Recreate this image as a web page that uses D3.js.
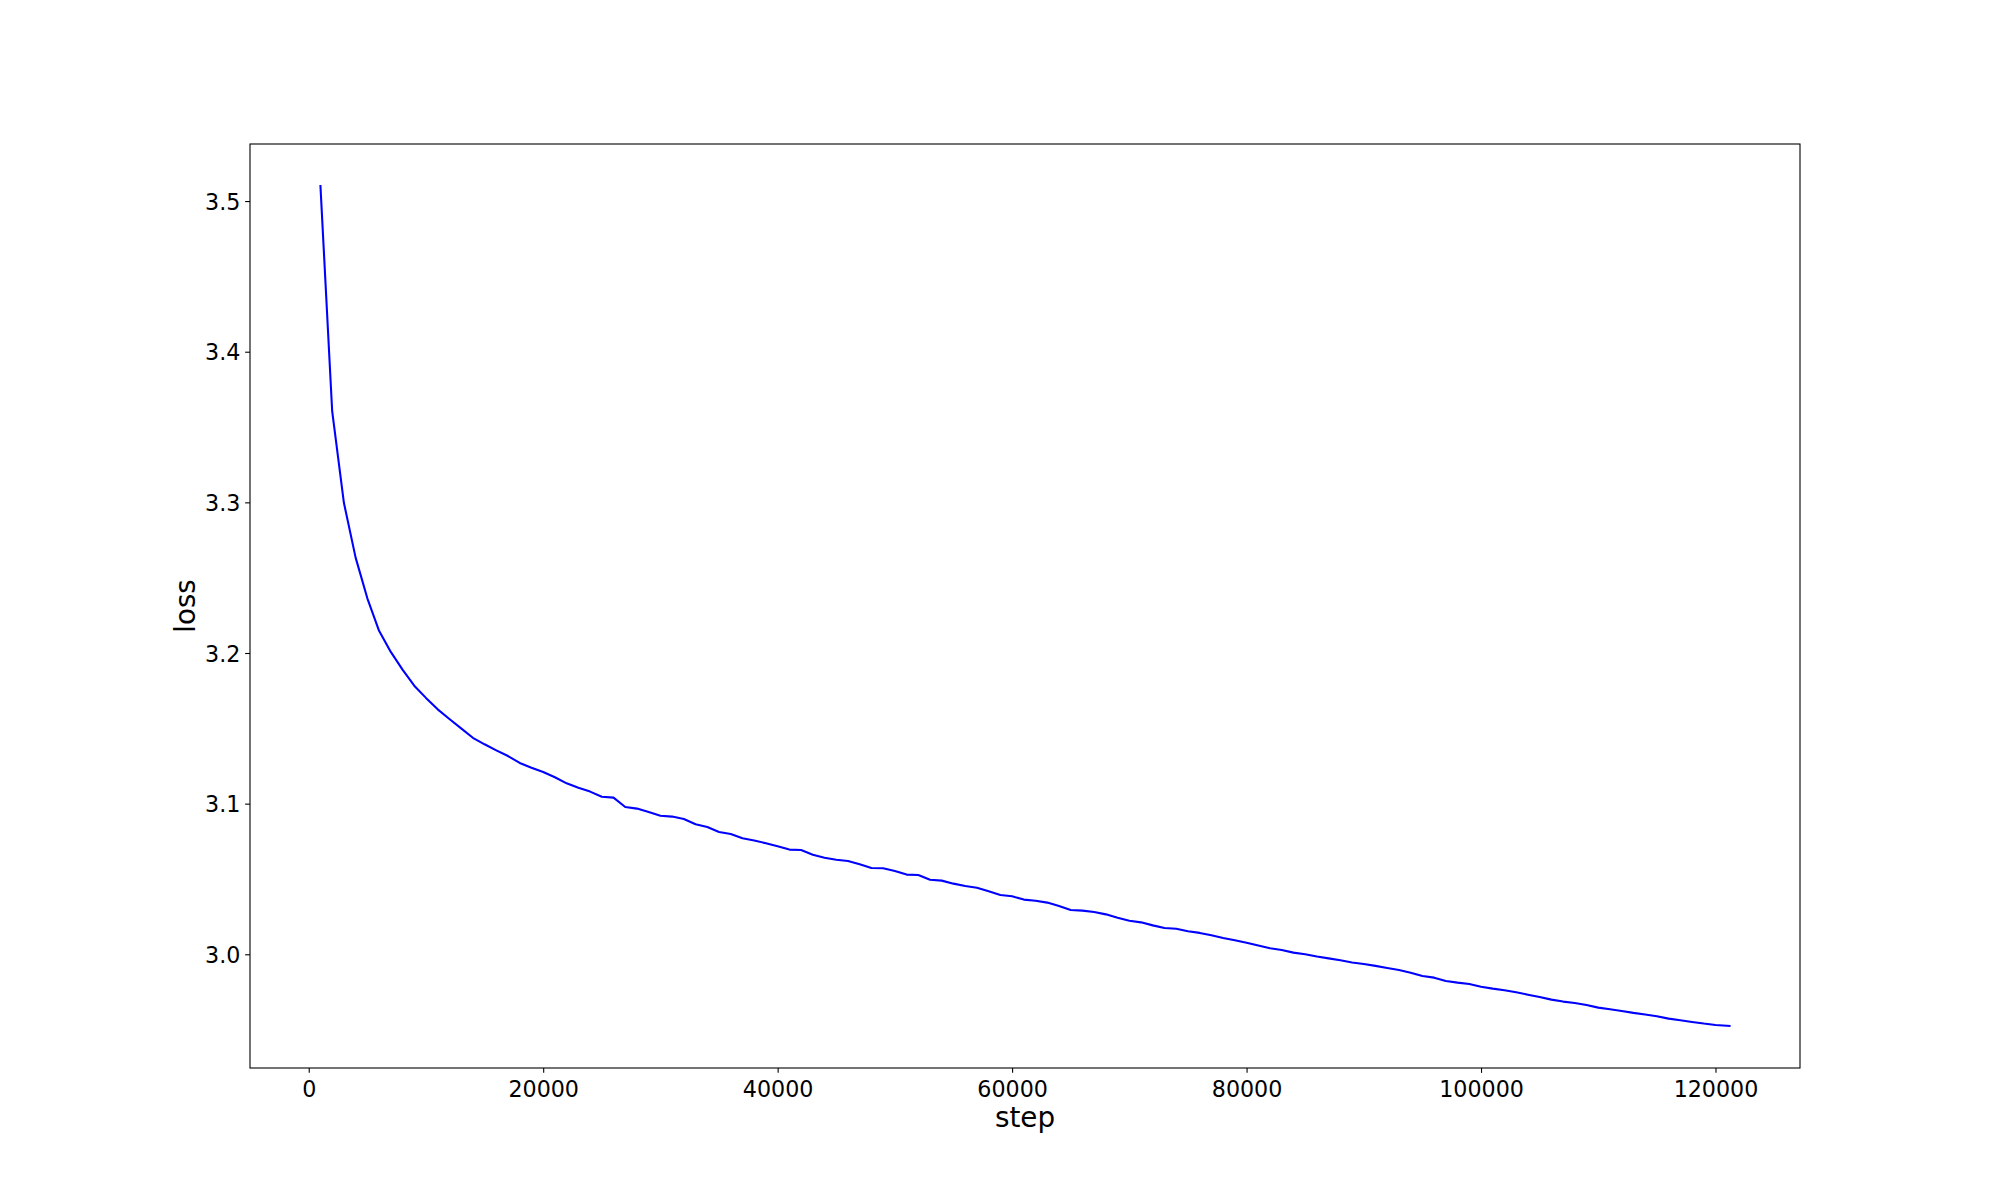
<!DOCTYPE html>
<html>
<head>
<meta charset="utf-8">
<script src="https://cdn.jsdelivr.net/npm/d3@7"></script>
<style>
  body { margin: 0; background: #fff; }
  svg { display: block; }
</style>
</head>
<body>
<script>
// training steps (x)
const steps = [
  1000, 2000, 3000, 4000, 5000, 6000, 7000, 8000, 9000, 10000,
  11000, 12000, 13000, 14000, 15000, 16000, 17000, 18000, 19000, 20000,
  21000, 22000, 23000, 24000, 25000, 26000, 27000, 28000, 29000, 30000,
  31000, 32000, 33000, 34000, 35000, 36000, 37000, 38000, 39000, 40000,
  41000, 42000, 43000, 44000, 45000, 46000, 47000, 48000, 49000, 50000,
  51000, 52000, 53000, 54000, 55000, 56000, 57000, 58000, 59000, 60000,
  61000, 62000, 63000, 64000, 65000, 66000, 67000, 68000, 69000, 70000,
  71000, 72000, 73000, 74000, 75000, 76000, 77000, 78000, 79000, 80000,
  81000, 82000, 83000, 84000, 85000, 86000, 87000, 88000, 89000, 90000,
  91000, 92000, 93000, 94000, 95000, 96000, 97000, 98000, 99000, 100000,
  101000, 102000, 103000, 104000, 105000, 106000, 107000, 108000, 109000, 110000,
  111000, 112000, 113000, 114000, 115000, 116000, 117000, 118000, 119000, 120000,
  121200
];

// loss values (y)
const loss = [
  3.510, 3.3605, 3.2997, 3.2633, 3.2363, 3.2147, 3.2007, 3.1890, 3.1783, 3.1702,
  3.1626, 3.1562, 3.1500, 3.1437, 3.1394, 3.1354, 3.1316, 3.1270, 3.1238, 3.1210,
  3.1175, 3.1135, 3.1105, 3.1080, 3.1046, 3.1040, 3.0978, 3.0967, 3.0944, 3.0920,
  3.0914, 3.0898, 3.0863, 3.0845, 3.0812, 3.0798, 3.0770, 3.0756, 3.0737, 3.0717,
  3.0695, 3.0692, 3.0661, 3.0641, 3.0628, 3.0619, 3.0597, 3.0573, 3.0571, 3.0553,
  3.0529, 3.0526, 3.0495, 3.0489, 3.0469, 3.0453, 3.0442, 3.0418, 3.0394, 3.0385,
  3.0363, 3.0356, 3.0343, 3.0321, 3.0294, 3.0290, 3.0281, 3.0265, 3.0243, 3.0223,
  3.0212, 3.0192, 3.0175, 3.0170, 3.0153, 3.0142, 3.0126, 3.0108, 3.0093, 3.0077,
  3.0058, 3.0040, 3.0029, 3.0011, 3.0000, 2.9985, 2.9973, 2.9960, 2.9945, 2.9936,
  2.9923, 2.9909, 2.9896, 2.9878, 2.9856, 2.9845, 2.9823, 2.9812, 2.9803, 2.9785,
  2.9772, 2.9761, 2.9748, 2.9732, 2.9717, 2.9699, 2.9686, 2.9677, 2.9664, 2.9646,
  2.9635, 2.9624, 2.9611, 2.9600, 2.9589, 2.9573, 2.9562, 2.9551, 2.9540, 2.9531,
  2.9524
];

const xTicks = [0, 20000, 40000, 60000, 80000, 100000, 120000];
const yTicks = [3.0, 3.1, 3.2, 3.3, 3.4, 3.5];

const width = 2000;
const height = 1200;
const margin = { top: 144, right: 200, bottom: 132, left: 250 };
const font = 'DejaVu Sans';
const tickFont = 22.2;
const labelFont = 27.8;
const tickLen = 4.86;

const data = steps.map((s, i) => ({ step: s, value: loss[i] }));

// pad the data extent by 5% each side, like matplotlib autoscale
function padded (ext) {
  const d = (ext[1] - ext[0]) * 0.05;
  return [ext[0] - d, ext[1] + d];
}

const x = d3.scaleLinear()
  .domain(padded(d3.extent(steps)))
  .range([margin.left, width - margin.right]);
const y = d3.scaleLinear()
  .domain(padded(d3.extent(loss)))
  .range([height - margin.bottom, margin.top]);

const svg = d3.select('body')
  .append('svg')
  .attr('width', width)
  .attr('height', height);

svg.append('rect')
  .attr('width', width)
  .attr('height', height)
  .attr('fill', '#fff');

const line = d3.line()
  .x(d => x(d.step))
  .y(d => y(d.value));

svg.append('path')
  .datum(data)
  .attr('d', line)
  .attr('fill', 'none')
  .attr('stroke', '#0000ff')
  .attr('stroke-width', 2.08)
  .attr('stroke-linejoin', 'round')
  .attr('stroke-linecap', 'square');

const xAxis = svg.append('g')
  .attr('transform', `translate(0,${height - margin.bottom})`)
  .call(d3.axisBottom(x).tickValues(xTicks).tickFormat(d3.format('d')).tickSize(tickLen));

const yAxis = svg.append('g')
  .attr('transform', `translate(${margin.left},0)`)
  .call(d3.axisLeft(y).tickValues(yTicks).tickFormat(d3.format('.1f')).tickSize(tickLen));

[xAxis, yAxis].forEach(g => {
  g.select('.domain').remove();
  g.attr('font-family', font).attr('font-size', tickFont);
  g.selectAll('.tick line').attr('stroke', '#000').attr('stroke-width', 1.1);
  g.selectAll('.tick text').attr('fill', '#000');
});

xAxis.selectAll('.tick text').attr('y', 28.5).attr('dy', null);
yAxis.selectAll('.tick text').attr('x', -9.7).attr('dy', 8.1);

// spines
svg.append('rect')
  .attr('x', margin.left)
  .attr('y', margin.top)
  .attr('width', width - margin.left - margin.right)
  .attr('height', height - margin.top - margin.bottom)
  .attr('fill', 'none')
  .attr('stroke', '#000')
  .attr('stroke-width', 1.1);

svg.append('text')
  .attr('x', (margin.left + width - margin.right) / 2)
  .attr('y', 1126.7)
  .attr('text-anchor', 'middle')
  .attr('font-family', font)
  .attr('font-size', labelFont)
  .text('step');

svg.append('text')
  .attr('transform', `translate(195,${(margin.top + height - margin.bottom) / 2}) rotate(-90)`)
  .attr('text-anchor', 'middle')
  .attr('font-family', font)
  .attr('font-size', labelFont)
  .text('loss');
</script>
</body>
</html>
